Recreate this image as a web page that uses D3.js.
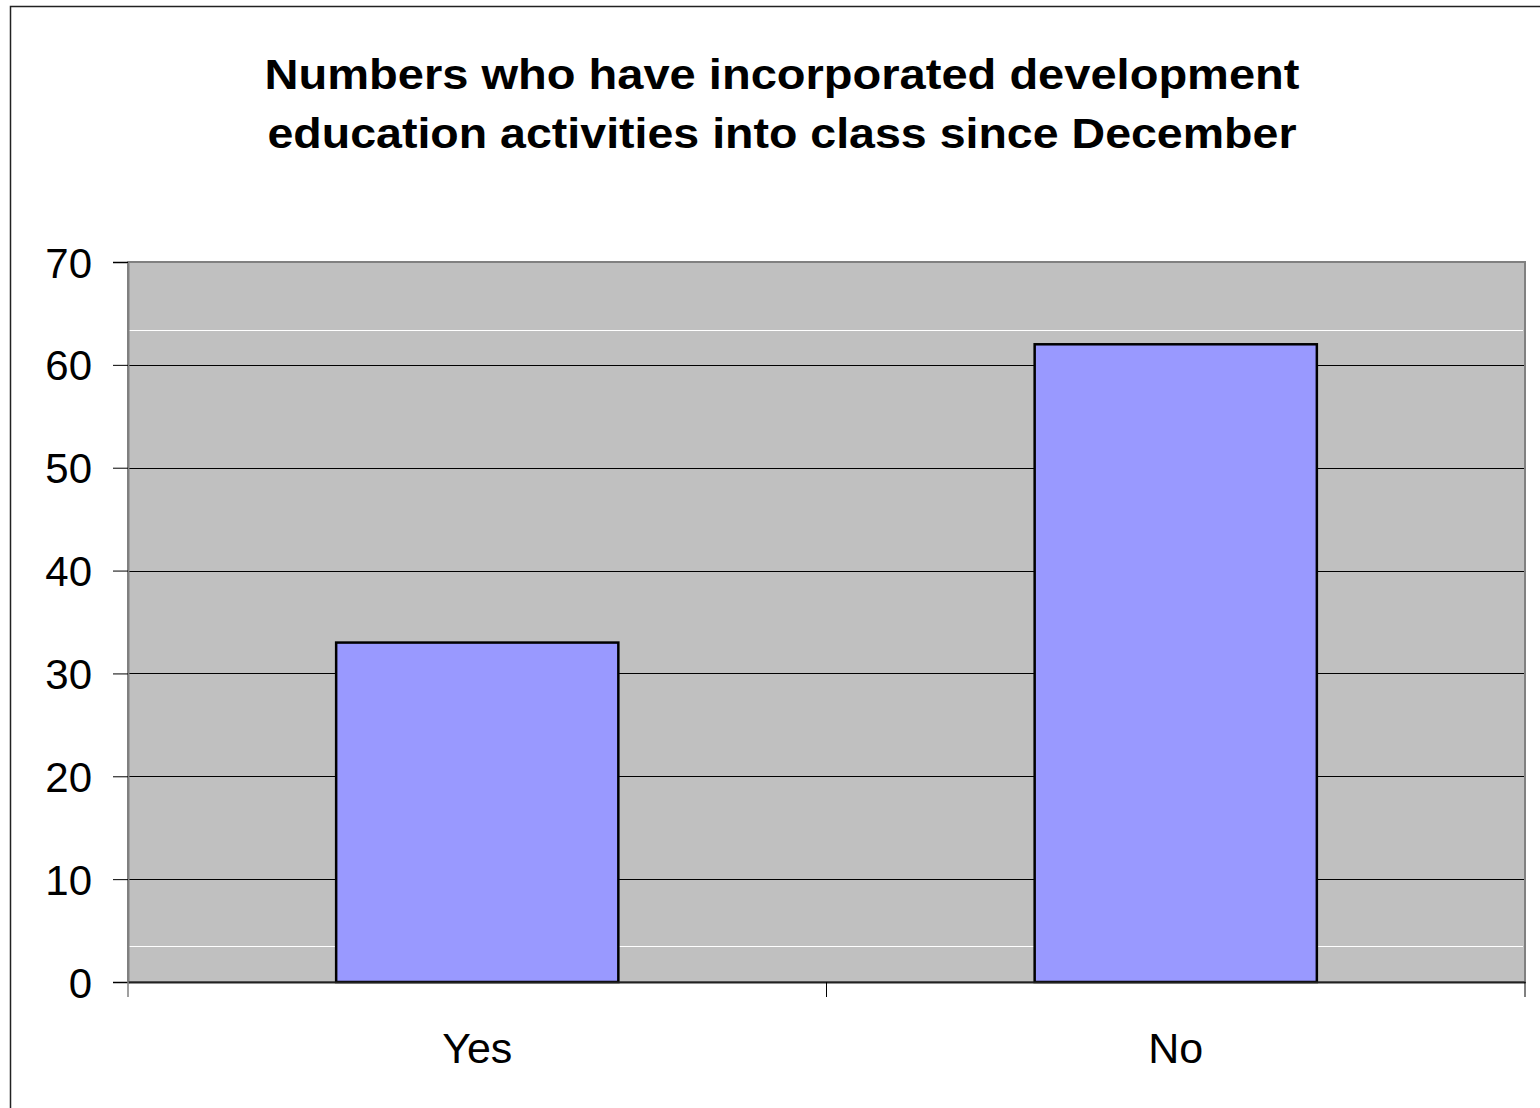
<!DOCTYPE html>
<html>
<head>
<meta charset="utf-8">
<script src="https://cdn.jsdelivr.net/npm/d3@7"></script>
<style>
  body { margin: 0; background: #fff; }
  svg text { font-family: "Liberation Sans", Arial, sans-serif; fill: #000; }
</style>
</head>
<body>
<div id="chart"></div>
<script>
// chart data
const categories = ["Yes", "No"];
const values = [33, 62];
const yTicks = [0, 10, 20, 30, 40, 50, 60, 70];
const titleLines = ["Numbers who have incorporated development", "education activities into class since December"];
const titleWidths = [1035, 1029];
// faint white lines visible inside the plot area
const whiteLines = [63.4, 3.5];

const width = 1540, height = 1108;
const plot = { left: 128, top: 262, right: 1525, bottom: 982 };

const svg = d3.select("#chart").append("svg")
    .attr("width", width)
    .attr("height", height);

// outer frame
svg.append("rect")
    .attr("x", 10.5).attr("y", 6.5)
    .attr("width", width + 20).attr("height", height + 20)
    .attr("fill", "#fff")
    .attr("stroke", "#222").attr("stroke-width", 1.5);

// title
svg.append("g")
    .selectAll("text")
    .data(titleLines)
    .enter().append("text")
    .attr("x", 782 - 0)
    .attr("y", (d, i) => 89 + i * 59)
    .attr("text-anchor", "middle")
    .attr("textLength", (d, i) => titleWidths[i])
    .attr("lengthAdjust", "spacingAndGlyphs")
    .style("font-size", "42px").style("font-weight", "bold")
    .text(d => d);

const x = d3.scaleBand()
    .domain(categories)
    .range([plot.left, plot.right])
    .paddingInner(0)
    .paddingOuter(0);

const y = d3.scaleLinear()
    .domain([0, 70])
    .range([plot.bottom, plot.top]);

// plot background
svg.append("rect")
    .attr("x", plot.left).attr("y", plot.top)
    .attr("width", plot.right - plot.left)
    .attr("height", plot.bottom - plot.top)
    .attr("fill", "#c0c0c0");

// gridlines
svg.append("g")
    .selectAll("line")
    .data(yTicks.filter(d => d > 0 && d < 70))
    .enter().append("line")
    .attr("x1", plot.left).attr("x2", plot.right)
    .attr("y1", d => Math.round(y(d)) + 0.5)
    .attr("y2", d => Math.round(y(d)) + 0.5)
    .attr("stroke", "#000").attr("stroke-width", 1);

svg.append("g")
    .selectAll("line")
    .data(whiteLines)
    .enter().append("line")
    .attr("x1", plot.left).attr("x2", plot.right - 2)
    .attr("y1", d => Math.round(y(d)) + 0.5)
    .attr("y2", d => Math.round(y(d)) + 0.5)
    .attr("stroke", "#fff").attr("stroke-width", 1);

// plot border
svg.append("rect")
    .attr("x", plot.left).attr("y", plot.top)
    .attr("width", plot.right - plot.left)
    .attr("height", plot.bottom - plot.top)
    .attr("fill", "none")
    .attr("stroke", "#808080").attr("stroke-width", 2);

// bars
const barW = x.bandwidth() * 0.404;
svg.append("g")
    .selectAll("rect")
    .data(categories)
    .enter().append("rect")
    .attr("x", d => x(d) + x.bandwidth() / 2 - barW / 2)
    .attr("y", (d, i) => y(values[i]))
    .attr("width", barW)
    .attr("height", (d, i) => y(0) - y(values[i]))
    .attr("fill", "#9999ff")
    .attr("stroke", "#000").attr("stroke-width", 2.5);

// y axis
const yAxis = svg.append("g")
    .attr("transform", `translate(${plot.left},0)`)
    .call(d3.axisLeft(y).tickValues(yTicks).tickSize(15).tickPadding(21));
yAxis.select(".domain").attr("stroke", "#808080").attr("stroke-width", 2);
yAxis.selectAll(".tick line").attr("stroke", "#000");
yAxis.selectAll(".tick text")
    .style("font-size", "42px")
    .attr("dy", "0.36em");

// x axis
const xAxis = svg.append("g")
    .attr("transform", `translate(0,${plot.bottom})`)
    .call(d3.axisBottom(x).tickSize(0).tickPadding(0));
xAxis.select(".domain").attr("stroke", "#222").attr("stroke-width", 2);
xAxis.selectAll(".tick text")
    .style("font-size", "43px")
    .attr("y", 81).attr("dy", 0);

// category separator ticks
svg.append("g")
    .selectAll("line")
    .data(categories.slice(1).concat(["__end"]))
    .enter().append("line")
    .attr("x1", (d, i) => i < categories.length - 1 ? x(d) : plot.right)
    .attr("x2", (d, i) => i < categories.length - 1 ? x(d) : plot.right)
    .attr("y1", plot.bottom).attr("y2", plot.bottom + 15)
    .attr("stroke", "#000").attr("stroke-width", 1);
svg.append("line")
    .attr("x1", plot.left).attr("x2", plot.left)
    .attr("y1", plot.bottom).attr("y2", plot.bottom + 15)
    .attr("stroke", "#808080").attr("stroke-width", 1.5);
</script>
</body>
</html>
